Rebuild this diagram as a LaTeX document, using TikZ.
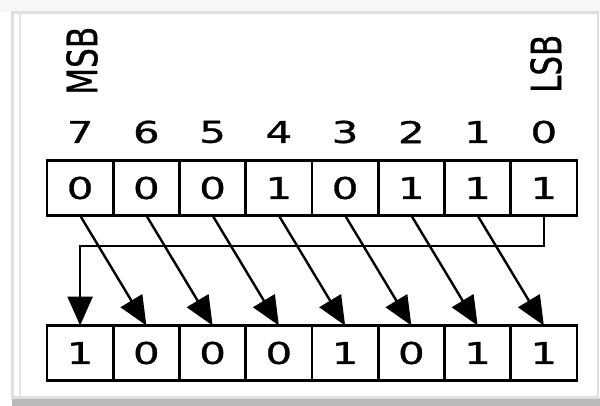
\documentclass[tikz,border=0pt]{standalone}
\usepackage{fontspec}
\usepackage{graphicx}
\usetikzlibrary{arrows.meta}
\newfontfamily\dvs{DejaVu Sans}[FakeStretch=1.4,FakeBold=1]
\newfontfamily\dvn{DejaVu Sans}[FakeBold=1]
\begin{document}
\begin{tikzpicture}[x=1pt,y=-1pt,
  bitbox/.style={draw,line width=2.6pt,minimum width=66.3pt,minimum height=55pt,inner sep=0pt,outer sep=0pt,font=\dvs\fontsize{30}{36}\selectfont},
  idx/.style={inner sep=0pt,font=\dvs\fontsize{30}{36}\selectfont},
  sidelab/.style={rotate=90,anchor=west,inner sep=0pt,font=\dvn\fontsize{31}{36}\selectfont},
  arr/.style={line width=2.4pt,-{Triangle[length=29pt,width=25pt]}}]
\useasboundingbox (0,0) rectangle (600,406);
% frame
\fill[gray!6] (0,0) rectangle (600,12);
\fill[gray!55] (12,398) rectangle (600,406);
\draw[gray!25,line width=2.5pt,fill=white] (12.5,12.5) rectangle (598,397.5);
\draw[gray!20,line width=1.2pt] (20,14) -- (20,396);
% top row
\foreach \v [count=\k from 0] in {0,0,0,1,0,1,1,1} {
  \pgfmathtruncatemacro{\i}{7-\k}
  \node[bitbox] (b\i) at ({47+66.25*\k+33.1},188) {\v};
  \node[idx] (l\i) at ({47+66.25*\k+33.1},132) {\i};
}
% bottom row
\foreach \v [count=\k from 0] in {1,0,0,0,1,0,1,1} {
  \pgfmathtruncatemacro{\i}{7-\k}
  \node[bitbox] (c\i) at ({47+66.25*\k+33.1},353) {\v};
}
\node[sidelab] (msb) at (82,95) {\resizebox{68pt}{31pt}{MSB}};
\node[sidelab] (lsb) at (546,93) {\resizebox{58pt}{31pt}{LSB}};
% shift arrows
\foreach \a/\b in {7/6,6/5,5/4,4/3,3/2,2/1,1/0}
  \draw[arr] (b\a.south) -- (c\b.north);
\coordinate (w) at (0,246);
\draw[arr] (b0.south) |- (c7.north |- w) -- (c7.north);
\end{tikzpicture}
\end{document}
